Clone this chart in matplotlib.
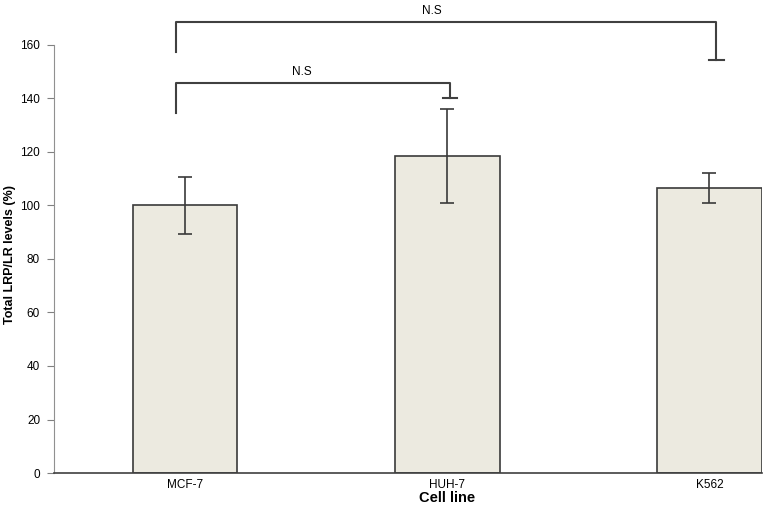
import matplotlib.pyplot as plt

plt.rcParams['font.family'] = ['Liberation Sans', 'DejaVu Sans']

cells = ['MCF-7', 'HUH-7', 'K562']
levels = [100.0, 118.5, 106.5]
errors = [10.5, 17.5, 5.5]
yticks = [0, 20, 40, 60, 80, 100, 120, 140, 160]

fig = plt.figure(figsize=(7.71, 5.09), dpi=100)
ax = fig.add_axes([0.070, 0.0707, 0.918, 0.841])

x = list(range(len(cells)))
ax.bar(x, levels, width=0.4, color='#ECEAE0', edgecolor='#3a3a3a', linewidth=1.2)
ax.errorbar(x, levels, yerr=errors, fmt='none', ecolor='#3a3a3a', elinewidth=1.2,
            capsize=5, capthick=1.2)

ax.set_xlim(-0.5, 2.2)
ax.set_ylim(0, 160)
ax.set_yticks(yticks)
ax.set_xticks(x)
ax.set_xticklabels(cells, fontsize=8.5)
ax.tick_params(axis='x', length=0, pad=4)
ax.tick_params(axis='y', labelsize=8.5, length=5, color='#808080', pad=5)

for s in ['top', 'right']:
    ax.spines[s].set_visible(False)
ax.spines['left'].set_color('#909090')
ax.spines['bottom'].set_color('#404040')
ax.spines['bottom'].set_linewidth(1.2)

ax.set_ylabel('Total LRP/LR levels (%)', fontsize=9, fontweight='bold')
ax.yaxis.set_label_coords(-0.053, 0.51)
ax.set_xlabel('Cell line', fontsize=10.5, fontweight='bold')
ax.xaxis.set_label_coords(0.555, -0.042)

# significance brackets
lc = '#404040'
# MCF-7 vs K562
ax.plot([-0.034, -0.034, 2.027, 2.027], [157.4, 168.6, 168.6, 154.4],
        color=lc, lw=1.5, clip_on=False)
ax.plot([1.999, 2.055], [154.4, 154.4], color=lc, lw=1.5, clip_on=False)
ax.text(0.943, 170.5, 'N.S', ha='center', va='bottom', fontsize=8.5, clip_on=False)
# MCF-7 vs HUH-7
ax.plot([-0.034, -0.034, 1.011, 1.011], [134.6, 145.8, 145.8, 140.2],
        color=lc, lw=1.5, clip_on=False)
ax.plot([0.983, 1.039], [140.2, 140.2], color=lc, lw=1.5, clip_on=False)
ax.text(0.447, 147.5, 'N.S', ha='center', va='bottom', fontsize=8.5, clip_on=False)

plt.savefig('out.png', dpi=100)
